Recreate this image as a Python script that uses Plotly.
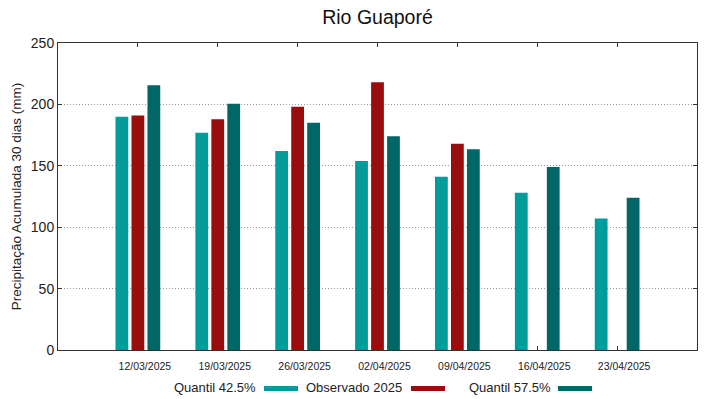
import plotly.graph_objects as go

dates = ["12/03/2025", "19/03/2025", "26/03/2025", "02/04/2025", "09/04/2025", "16/04/2025", "23/04/2025"]
q425 = [190, 177, 162, 154, 141, 128, 107]
obs2025 = [191, 188, 198, 218, 168, None, None]
q575 = [215.5, 200.5, 185, 174, 163.5, 149, 124]

names = ["Quantil 42.5%", "Observado 2025", "Quantil 57.5%"]
colors = ["#009B9B", "#990D0D", "#006666"]
series = [q425, obs2025, q575]

fig = go.Figure()
for nm, col, vals in zip(names, colors, series):
    fig.add_trace(go.Bar(x=list(range(len(dates))), y=vals, name=nm,
                         marker=dict(color=col, line=dict(width=0)),
                         showlegend=False))

font = "Liberation Sans, Arial, sans-serif"
fig.update_layout(
    width=719, height=399,
    margin=dict(l=58, r=22, t=43, b=49, autoexpand=False),
    paper_bgcolor="white", plot_bgcolor="white",
    barmode="group", bargap=0.4, bargroupgap=0.2,
    font=dict(family=font, color="#222"),
    title=dict(text="Rio Guaporé", x=377.5 / 719, xanchor="center", y=0.957, yanchor="middle",
               font=dict(size=19.5, color="#111", family=font)),
)
fig.update_xaxes(
    range=[-1, 7], tickmode="array", tickvals=list(range(len(dates))), ticktext=dates,
    tickfont=dict(size=10.5, color="#222"), ticks="inside", ticklen=4, tickcolor="#333",
    showline=True, linecolor="#333", linewidth=1, mirror="ticks", showgrid=False,
    zeroline=False, ticklabelshift=7, ticklabelstandoff=6, automargin=False,
)
fig.update_yaxes(
    range=[0, 250], tickvals=[0, 50, 100, 150, 200, 250],
    tickfont=dict(size=14, color="#222"), ticks="inside", ticklen=4, tickcolor="#333",
    showline=True, linecolor="#333", linewidth=1, mirror="ticks",
    showgrid=True, gridcolor="#9a9a9a", griddash="1px,2px", gridwidth=1, zeroline=False,
    title=dict(text="Precipitação Acumulada 30 dias (mm)", font=dict(size=13.5, color="#222"), standoff=6),
    automargin=False,
)

# gnuplot-style legend: text followed by sample swatch
text_right = [258, 404, 553]
sw_x = [(264, 298), (411, 445), (558, 592)]
for nm, col, tr, (x0, x1) in zip(names, colors, text_right, sw_x):
    fig.add_annotation(text=nm, xref="paper", yref="paper",
                       x=(tr - 58) / 639, y=-(387 - 350) / 307, xanchor="right", yanchor="middle",
                       showarrow=False, font=dict(size=13, color="#222", family=font))
    fig.add_shape(type="rect", xref="paper", yref="paper",
                  x0=(x0 - 58) / 639, x1=(x1 - 58) / 639,
                  y0=-(391 - 350) / 307, y1=-(386 - 350) / 307,
                  fillcolor=col, line=dict(width=0))

fig.write_html("out.html", config={"displayModeBar": False},
               post_script="document.body.style.margin='0';")
